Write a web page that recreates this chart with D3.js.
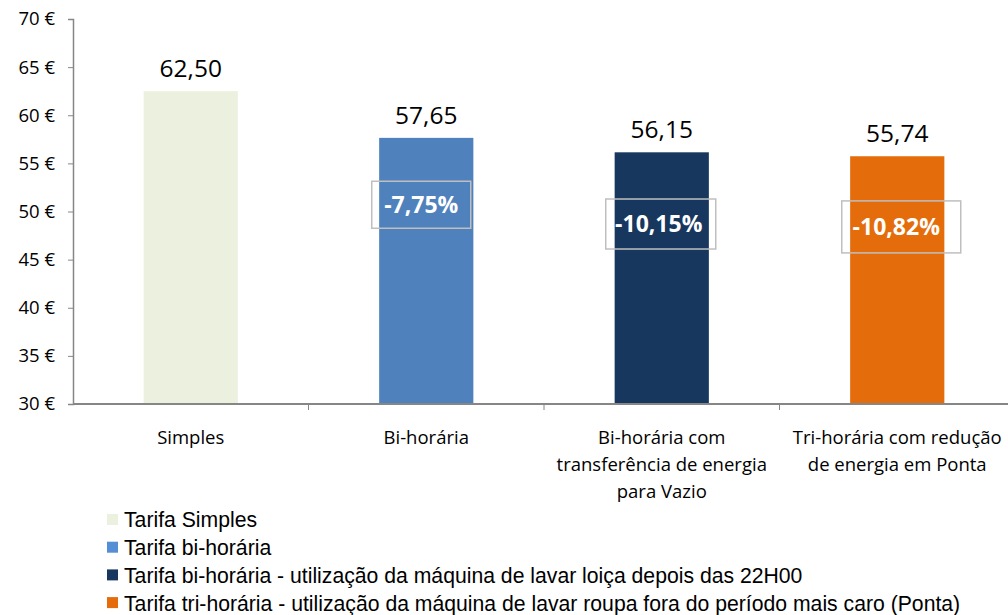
<!DOCTYPE html>
<html>
<head>
<meta charset="utf-8">
<script src="https://cdn.jsdelivr.net/npm/d3@7"></script>
<style>
  body { margin: 0; background: #fff; }
  svg { display: block; }
</style>
</head>
<body>
<svg id="chart" width="1008" height="615"></svg>
<script>
// data
const categories = [
  ["Simples"],
  ["Bi-horária"],
  ["Bi-horária com", "transferência de energia", "para Vazio"],
  ["Tri-horária com redução", "de energia em Ponta"],
];
const values = [62.5, 57.65, 56.15, 55.74];
const valueLabels = ["62,50", "57,65", "56,15", "55,74"];
const savings = [null, "-7,75%", "-10,15%", "-10,82%"];
const yTicks = [30, 35, 40, 45, 50, 55, 60, 65, 70];
const legendLabels = [
  "Tarifa Simples",
  "Tarifa bi-horária",
  "Tarifa bi-horária - utilização da máquina de lavar loiça depois das 22H00",
  "Tarifa tri-horária - utilização da máquina de lavar roupa fora do período mais caro (Ponta)",
];

const barColors = ["#EBF1DE", "#4F81BD", "#17375E", "#E46C0A"];
const legendColors = ["#EBF1DE", "#558ED5", "#17375E", "#E46C0A"];
// savings boxes: centre (value units), shift from bar centre, box size, text shift
const boxLayout = [
  null,
  { y: 50.7, dx: -5, w: 99, h: 47, tx: 0 },
  { y: 48.7, dx: -1, w: 110, h: 50, tx: -2 },
  { y: 48.4, dx: 4, w: 119, h: 52, tx: -5 },
];

const svg = d3.select("#chart");
const axisColor = "#868686";
const catFont = "'Open Sans', sans-serif";

const x = d3.scaleBand().domain(d3.range(categories.length)).range([73, 1015]).paddingInner(0.6).paddingOuter(0.3);
const xOuter = d3.scaleBand().domain(d3.range(categories.length)).range([73, 1015]);
const y = d3.scaleLinear().domain([30, 70]).range([404, 19]);

// y axis
const yAxis = svg.append("g")
  .attr("transform", "translate(73,0)")
  .call(d3.axisLeft(y).tickValues(yTicks).tickSize(5).tickPadding(13).tickFormat(d => d + " €"));
yAxis.select(".domain").attr("stroke", axisColor).attr("stroke-width", 1.5);
yAxis.selectAll(".tick line").attr("stroke", axisColor);
yAxis.selectAll(".tick text")
  .attr("font-family", catFont).attr("font-size", 18.5).attr("fill", "#000");

// bars
svg.append("g").selectAll("rect")
  .data(values)
  .join("rect")
  .attr("x", (d, i) => x(i))
  .attr("y", d => y(d))
  .attr("width", x.bandwidth())
  .attr("height", d => y(30) - y(d))
  .attr("fill", (d, i) => barColors[i]);

// x axis
svg.append("line")
  .attr("x1", 73).attr("x2", 1008)
  .attr("y1", y(30)).attr("y2", y(30))
  .attr("stroke", axisColor).attr("stroke-width", 2);
svg.append("g").selectAll("line")
  .data(d3.range(1, categories.length))
  .join("line")
  .attr("x1", i => xOuter(i)).attr("x2", i => xOuter(i))
  .attr("y1", y(30)).attr("y2", y(30) + 6)
  .attr("stroke", axisColor);

// category labels
svg.append("g").selectAll("text")
  .data(categories)
  .join("text")
  .attr("x", (d, i) => x(i) + x.bandwidth() / 2)
  .attr("y", 444)
  .attr("text-anchor", "middle")
  .attr("font-family", catFont)
  .attr("font-size", 18.5)
  .attr("fill", "#000")
  .each(function (lines) {
    d3.select(this).selectAll("tspan")
      .data(lines)
      .join("tspan")
      .attr("x", d3.select(this).attr("x"))
      .attr("dy", (l, j) => (j === 0 ? 0 : 27))
      .text(l => l);
  });

// value labels
svg.append("g").selectAll("text")
  .data(values)
  .join("text")
  .attr("x", (d, i) => x(i) + x.bandwidth() / 2)
  .attr("y", d => y(d) - 14)
  .attr("text-anchor", "middle")
  .attr("font-family", catFont)
  .attr("font-size", 24.5)
  .attr("fill", "#000")
  .text((d, i) => valueLabels[i]);

// savings boxes
const boxes = svg.append("g").selectAll("g")
  .data(savings.map((s, i) => ({ s, i, b: boxLayout[i] })).filter(d => d.s))
  .join("g")
  .attr("transform", d => `translate(${x(d.i) + x.bandwidth() / 2 + d.b.dx},${y(d.b.y)})`);
boxes.append("rect")
  .attr("x", d => -d.b.w / 2)
  .attr("y", d => -d.b.h / 2)
  .attr("width", d => d.b.w)
  .attr("height", d => d.b.h)
  .attr("fill", "none")
  .attr("stroke", "#BFBFBF")
  .attr("stroke-width", 1.5);
boxes.append("text")
  .attr("x", d => d.b.tx)
  .attr("text-anchor", "middle")
  .attr("dy", "0.35em")
  .attr("font-family", catFont)
  .attr("font-weight", "bold")
  .attr("font-size", 23)
  .attr("fill", "#fff")
  .text(d => d.s);

// legend
const legend = svg.append("g").selectAll("g")
  .data(legendLabels)
  .join("g")
  .attr("transform", (d, i) => `translate(107,${520 + i * 27.7})`);
legend.append("rect")
  .attr("x", 0).attr("y", -6)
  .attr("width", 11).attr("height", 11)
  .attr("fill", (d, i) => legendColors[i]);
legend.append("text")
  .attr("x", 17)
  .attr("dy", "0.35em")
  .attr("font-family", "'Liberation Sans', Arial, sans-serif")
  .attr("font-size", 21.2)
  .attr("fill", "#000")
  .text(d => d);
</script>
</body>
</html>
